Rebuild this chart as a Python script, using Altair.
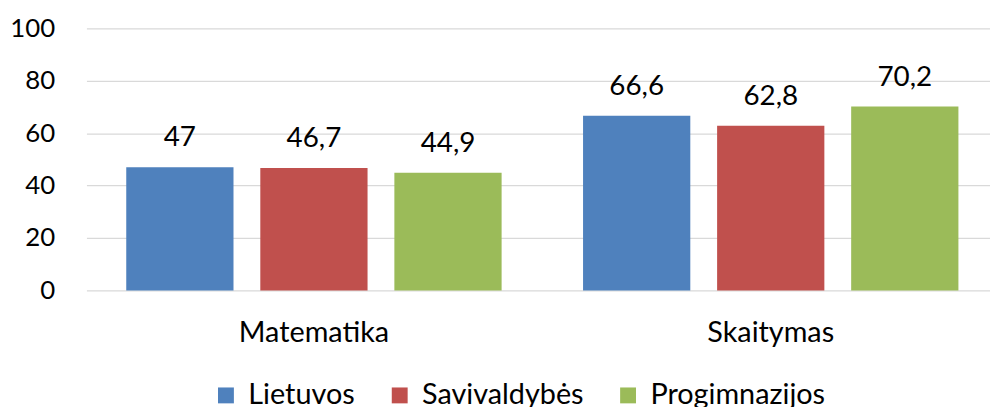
import altair as alt
import pandas as pd

categories = ["Matematika", "Skaitymas"]
series = ["Lietuvos", "Savivaldybės", "Progimnazijos"]
values = {
    "Lietuvos": [47, 66.6],
    "Savivaldybės": [46.7, 62.8],
    "Progimnazijos": [44.9, 70.2],
}
colors = ["#4F81BD", "#C0504D", "#9BBB59"]
y_ticks = [0, 20, 40, 60, 80, 100]

rows = []
for s in series:
    for c, v in zip(categories, values[s]):
        rows.append({"cat": c, "series": s, "value": v,
                     "label": str(v).replace(".", ",")})
df = pd.DataFrame(rows)

FONT = "Lato"
FS = 29

x = alt.X("cat:N", sort=categories, title=None,
          scale=alt.Scale(paddingInner=0.04, paddingOuter=0.009, align=1),
          axis=alt.Axis(labelAngle=0, labelFontSize=FS, labelFont=FONT,
                        labelColor="#000000", ticks=False, domain=False,
                        labelPadding=42, labelBaseline="middle"))
xo = alt.XOffset("series:N", sort=series,
                 scale=alt.Scale(paddingInner=0.2, paddingOuter=0.2356))
y = alt.Y("value:Q", title=None,
          scale=alt.Scale(domain=[0, 100]),
          axis=alt.Axis(values=y_ticks, labelFontSize=26, labelFont=FONT,
                        labelColor="#000000", ticks=False, domain=False,
                        gridColor="#D9D9D9", gridWidth=1.3, labelPadding=32))

color = alt.Color("series:N", sort=series,
                  scale=alt.Scale(domain=series, range=colors),
                  legend=alt.Legend(title=None, orient="none", direction="horizontal",
                                    legendX=126, legendY=355,
                                    symbolType="square", symbolSize=256,
                                    symbolStrokeWidth=0, labelLimit=0,
                                    labelFontSize=FS, labelFont=FONT,
                                    labelColor="#000000", columnPadding=30,
                                    symbolOffset=0, labelOffset=8))

bars = alt.Chart(df).mark_bar().encode(x=x, xOffset=xo, y=y, color=color)
text = alt.Chart(df).mark_text(baseline="alphabetic", dy=-21, fontSize=28,
                               font=FONT, color="#000000").encode(
    x=x, xOffset=xo, y=y, text="label:N")

chart = (bars + text).properties(
    width=910, height=264,
    autosize=alt.AutoSizeParams(type="none"),
    padding={"left": 79, "top": 19, "right": 0, "bottom": 116},
).configure_view(stroke=None)

chart.save("out.html", embed_options={"renderer": "svg", "actions": False})
